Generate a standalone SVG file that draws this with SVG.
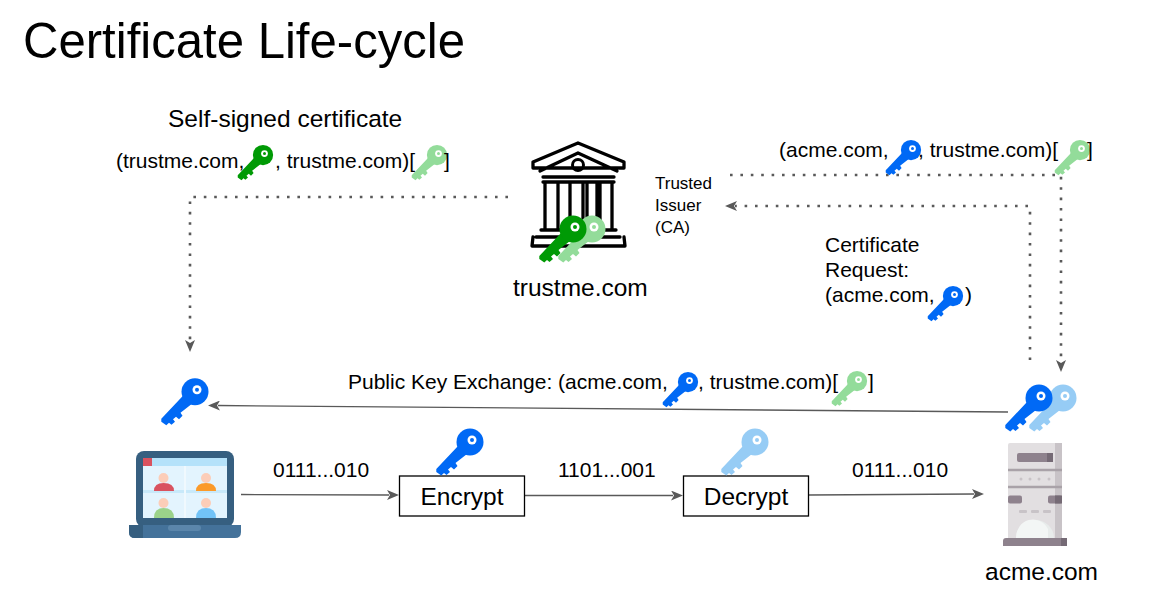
<svg xmlns="http://www.w3.org/2000/svg" width="1163" height="606" viewBox="0 0 1163 606">
<style>
text{font-family:"Liberation Sans",Arial,sans-serif;fill:#000}
.m{font-size:21px}
.s{font-size:17px}
.d{fill:none;stroke:#595959;stroke-width:2.600;stroke-dasharray:2.600 7.800}
.c{fill:none;stroke:#595959;stroke-width:1.300}
.b{fill:#fff;stroke:#000;stroke-width:1.300}
.t{fill:none;stroke:#000;stroke-width:3.300;stroke-linecap:round;stroke-linejoin:round}
</style>
<defs>
<marker id="a" viewBox="0 0 12 10" refX="2" refY="5" markerWidth="12" markerHeight="10" markerUnits="userSpaceOnUse" orient="auto"><path d="M0 0L12 5L0 10L3 5Z" fill="#595959"/></marker>
<g id="kshape"><path d="M-12 4L-33.700 27V30L-28.700 33.500L-26 31L-23.500 33L-20 30L-22 27.500L-19 25L-16 27.500L-12.500 24L-14.500 21L-3 12Z"/><circle r="13.5"/></g>
<g id="kb"><use href="#kshape" fill="#0069f5"/><circle cx="2" cy="-2" r="4.500" fill="#fff"/><circle cx="2" cy="-2" r="2" fill="#0069f5"/></g>
<g id="kl"><use href="#kshape" fill="#96ccf5"/><circle cx="2" cy="-2" r="4.500" fill="#fff"/><circle cx="2" cy="-2" r="2" fill="#96ccf5"/></g>
<g id="kg"><use href="#kshape" fill="#009a05"/><circle cx="2" cy="-2" r="4.500" fill="#fff"/><circle cx="2" cy="-2" r="2" fill="#009a05"/></g>
<g id="kp"><use href="#kshape" fill="#93dc9a"/><circle cx="2" cy="-2" r="4.500" fill="#fff"/><circle cx="2" cy="-2" r="2" fill="#93dc9a"/></g>
</defs>
<rect width="1163" height="606" fill="#fff"/>
<text x="23" y="58" font-size="49.100">Certificate Life-cycle</text>

<g id="connectors">
<path class="d" d="M508 197H190V342" marker-end="url(#a)"/>
<path class="d" d="M730 175H1061V362" marker-end="url(#a)"/>
<path class="d" d="M1030 360V206H735" marker-end="url(#a)"/>
<path class="c" d="M1008 412L218 405.500" marker-end="url(#a)"/>
<path class="c" d="M241 494.500L389 495" marker-end="url(#a)"/>
<path class="c" d="M525 495.500H673" marker-end="url(#a)"/>
<path class="c" d="M809 495L974 494" marker-end="url(#a)"/>
</g>

<g id="self-signed">
<text x="168" y="126.500" font-size="24.500">Self-signed certificate</text>
<text x="116" y="167.500" class="m">(trustme.com,</text>
<use href="#kg" transform="translate(263 155) scale(.75)"/>
<text x="275" y="167.500" class="m">, trustme.com)[</text>
<use href="#kp" transform="translate(437 155) scale(.75)"/>
<text x="444" y="167.500" class="m">]</text>
</g>

<g id="ca">
<path class="t" d="M533 168V162L578 143L624 162V168H533M540 171L578 153L617 171"/>
<circle cx="578" cy="165" r="5.500" fill="none" stroke="#000" stroke-width="3"/>
<path class="t" d="M543 177H614M543 182H614M545 182V229M558 182V229M570 182V229M583 182V229M587 182V229M597 182V229M600 182V229M612 182V229M541 230H616M536 237H620M533 237L532 246H625L624 237"/>
<use href="#kp" transform="translate(592 229)"/>
<use href="#kg" transform="translate(573 229)"/>
<text x="513" y="296" font-size="24.500">trustme.com</text>
<text class="s"><tspan x="655" y="189">Trusted</tspan><tspan x="655" y="211">Issuer</tspan><tspan x="655" y="233">(CA)</tspan></text>
</g>

<g id="cert-top">
<text x="779" y="157" class="m">(acme.com,</text>
<use href="#kb" transform="translate(911 150) scale(.75)"/>
<text x="918" y="157" class="m">, trustme.com)[</text>
<use href="#kp" transform="translate(1080 150) scale(.75)"/>
<text x="1087" y="157" class="m">]</text>
</g>

<g id="cert-request">
<text class="m"><tspan x="825" y="252">Certificate</tspan><tspan x="825" y="277">Request:</tspan><tspan x="825" y="302">(acme.com,</tspan></text>
<use href="#kb" transform="translate(953 296) scale(.75)"/>
<text x="965" y="302" class="m">)</text>
</g>

<g id="exchange">
<text x="348" y="389" class="m">Public Key Exchange: (acme.com,</text>
<use href="#kb" transform="translate(688 382) scale(.75)"/>
<text x="698" y="389" class="m">, trustme.com)[</text>
<use href="#kp" transform="translate(857 381) scale(.75)"/>
<text x="868" y="389" class="m">]</text>
</g>

<g id="client-key"><use href="#kb" transform="translate(195 391.700)"/></g>

<g id="laptop">
<rect x="136" y="451" width="98" height="76" rx="8" fill="#365f80"/>
<path d="M129 525H241V532Q241 538 235 538H135Q129 538 129 532Z" fill="#44729a"/>
<path d="M129 525H143V538H135Q129 538 129 532Z" fill="#365f80"/>
<rect x="168" y="525" width="33" height="6" rx="3" fill="#5b86ab"/>
<rect x="143" y="458" width="84" height="60" fill="#e3f4fe"/>
<rect x="143" y="458" width="84" height="8" fill="#b5e2fa"/>
<rect x="143" y="458" width="9" height="8" fill="#d9525f"/>
<path d="M143 491.500H227" stroke="#c8e9fa" stroke-width="3"/>
<path d="M185 466V518" stroke="#f0f9fe" stroke-width="2"/>
<circle cx="163.500" cy="478" r="5" fill="#fccdb8"/><path d="M154 491Q154 483 163.500 483Q174 483 174 491Z" fill="#d9525f"/>
<circle cx="206" cy="478" r="5" fill="#fccdb8"/><path d="M196 491Q196 483 206 483Q216 483 216 491Z" fill="#fb9a2a"/>
<circle cx="163.500" cy="503" r="5" fill="#fccdb8"/><path d="M154 518Q154 508 163.500 508Q174 508 174 518Z" fill="#9bd28a"/>
<circle cx="206" cy="503" r="5" fill="#fccdb8"/><path d="M196 518Q196 508 206 508Q216 508 216 518Z" fill="#72c3f7"/>
</g>

<text x="273" y="477" class="m">0111...010</text>
<text x="558" y="477" class="m">1101...001</text>
<text x="852" y="477" class="m">0111...010</text>

<g id="encrypt">
<rect class="b" x="399.500" y="476" width="125" height="40"/>
<use href="#kb" transform="translate(470 442)"/>
<text x="462" y="505" font-size="24.500" text-anchor="middle">Encrypt</text>
</g>
<g id="decrypt">
<rect class="b" x="683.500" y="476" width="125" height="40"/>
<use href="#kl" transform="translate(755 442)"/>
<text x="746" y="505" font-size="24.500" text-anchor="middle">Decrypt</text>
</g>

<g id="server">
<use href="#kl" transform="translate(1063 398)"/>
<use href="#kb" transform="translate(1039 398)"/>
<rect x="1008" y="443" width="54" height="97" rx="2" fill="#e2dfe1"/>
<rect x="1055" y="443" width="7" height="97" fill="#c8c3c7"/>
<rect x="1017" y="453" width="36" height="9" rx="2" fill="#8e828d"/>
<rect x="1047" y="453" width="6" height="9" fill="#756a75"/>
<path d="M1008 470H1062M1008 487H1062" stroke="#a9a2a8" stroke-width="2.500"/>
<g fill="#c8c3c7"><circle cx="1021" cy="479" r="1.500"/><circle cx="1030" cy="479" r="1.500"/><circle cx="1039" cy="479" r="1.500"/><circle cx="1049" cy="479" r="1.500"/></g>
<rect x="1008" y="495.500" width="14" height="8" rx="2" fill="#8e828d"/>
<rect x="1048" y="495.500" width="14" height="8" rx="2" fill="#8e828d"/>
<rect x="1055" y="495.500" width="7" height="8" fill="#756a75"/>
<g fill="#c8c3c7"><rect x="1019" y="510" width="8" height="3" rx="1"/><rect x="1031" y="510" width="8" height="3" rx="1"/><rect x="1043" y="510" width="8" height="3" rx="1"/></g>
<path d="M1016 538A19 18 0 0 1 1054 538Z" fill="#e8eceb"/>
<path d="M1016 538A17 18 0 0 1 1048 529V538Z" fill="#f3f6f5"/>
<path d="M1003 541Q1003 538 1006 538H1064Q1067 538 1067 541V546H1003Z" fill="#8e828d"/>
<rect x="1061" y="538" width="6" height="8" fill="#756a75"/>
<text x="985" y="580" font-size="24.500">acme.com</text>
</g>
</svg>
